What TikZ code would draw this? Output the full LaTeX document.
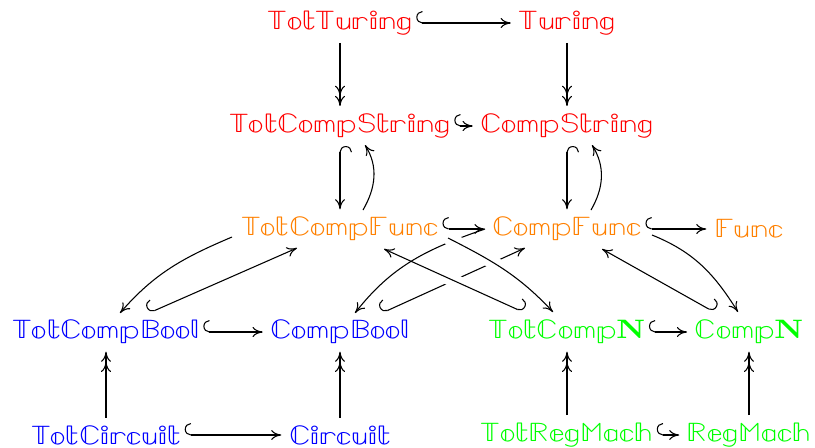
\documentclass[tikz,border=0pt]{standalone}
\usepackage{unicode-math}
\setmathfont{Latin Modern Math}
\usetikzlibrary{arrows.meta}
\definecolor{cRed}{rgb}{1,0,0}
\definecolor{cOrange}{rgb}{1,0.5,0}
\definecolor{cBlue}{rgb}{0,0,1}
\definecolor{cGreen}{rgb}{0,1,0}
\newcommand\bbtxt[1]{\scalebox{1.2}[1]{$#1$}}
\begin{document}
\begin{tikzpicture}[x=0.375pt,y=0.375pt,
  obj/.style={inner xsep=1.2pt, inner ysep=2.7pt, font=\fontsize{10}{12}\selectfont},
  tip/.tip={Computer Modern Rightarrow[length=3.8pt,width=3.8pt]},
  ar/.style={line width=0.4pt, -{tip}},
  hk/.style={line width=0.4pt, {Hooks[right,width=9pt,length=2.3pt]}-{tip}},
  hh/.style={hk, shorten >=1.5pt},
  hkl/.style={line width=0.4pt, {Hooks[left,width=9pt,length=2.3pt]}-{tip}},
  twohd/.style={line width=0.4pt, -{tip[sep=0pt]tip}},
  over/.style={preaction={draw=white, line width=5pt, -}}]
\useasboundingbox (0,0) rectangle (815,-447);
% row 1
\node[obj, text=cRed] (tt) at (340,-23) {\bbtxt{\mathbb{TotTuring}}};
\node[obj, text=cRed] (tu) at (567,-23) {\bbtxt{\mathbb{Turing}}};
% row 2
\node[obj, text=cRed] (tcs) at (340,-126) {\bbtxt{\mathbb{TotCompString}}};
\node[obj, text=cRed] (cs) at (567,-126) {\bbtxt{\mathbb{CompString}}};
% row 3
\node[obj, text=cOrange] (tcf) at (340,-229) {\bbtxt{\mathbb{TotCompFunc}}};
\node[obj, text=cOrange] (cf) at (567,-229) {\bbtxt{\mathbb{CompFunc}}};
\node[obj, text=cOrange] (fu) at (749,-229) {\bbtxt{\mathbb{Func}}};
% row 4
\node[obj, text=cBlue] (tcb) at (106,-332) {\bbtxt{\mathbb{TotCompBool}}};
\node[obj, text=cBlue] (cb) at (340,-332) {\bbtxt{\mathbb{CompBool}}};
\node[obj, text=cGreen] (tcn) at (567,-332) {\bbtxt{\mathbb{TotComp}\mathbf{N}}};
\node[obj, text=cGreen] (cn) at (749,-332) {\bbtxt{\mathbb{Comp}\mathbf{N}}};
% row 5
\node[obj, text=cBlue] (tci) at (106,-435) {\bbtxt{\mathbb{TotCircuit}}};
\node[obj, text=cBlue] (ci) at (340,-435) {\bbtxt{\mathbb{Circuit}}};
\node[obj, text=cGreen] (trm) at (567,-435) {\bbtxt{\mathbb{TotRegMach}}};
\node[obj, text=cGreen] (rm) at (749,-435) {\bbtxt{\mathbb{RegMach}}};

% vertical surjections
\draw[twohd] (tt) -- (tcs);
\draw[twohd] (tu) -- (cs);
\draw[twohd] (tci) -- (tcb);
\draw[twohd] (ci) -- (cb);
\draw[twohd] (trm) -- (tcn);
\draw[twohd] (rm) -- (cn);

% vertical hooks and curved returns
\draw[hk] (tcs) -- (tcf);
\draw[hk] (cs) -- (cf);
\draw[ar] ([shift={(23,19)}]tcf.center) to[out=60,in=-58] ([shift={(25,-19)}]tcs.center);
\draw[ar] ([shift={(24,19)}]cf.center) to[out=60,in=-58] ([shift={(25,-19)}]cs.center);

% left group
\draw[ar] ([shift={(-108,-8)}]tcf.center) to[out=203,in=49] ([shift={(14,19)}]tcb.center);
\draw[hk] ([shift={(43,19)}]tcb.center) -- ([shift={(-43,-19)}]tcf.center);

% crossing group
\draw[hk] ([shift={(42,19)}]cb.center) -- ([shift={(-42,-19)}]cf.center);
\draw[hkl,over] ([shift={(-44,20)}]tcn.center) -- ([shift={(44,-20)}]tcf.center);
\draw[ar] ([shift={(-82,0)}]cf.center) to[out=199,in=52] ([shift={(15,19)}]cb.center);
\draw[ar,over] ([shift={(108,-9)}]tcf.center) to[out=-27,in=133] ([shift={(-14,20)}]tcn.center);

% right group
\draw[ar] ([shift={(85,-6)}]cf.center) to[out=-22,in=122] ([shift={(-11,20)}]cn.center);
\draw[hkl] ([shift={(-35,20)}]cn.center) -- ([shift={(35,-20)}]cf.center);

% horizontal hooks
\draw[hh] (tt) -- (tu);
\draw[hh] (tcs) -- (cs);
\draw[hh] (tcf) -- (cf);
\draw[hh] (cf) -- (fu);
\draw[hh] (tcb) -- (cb);
\draw[hh] (tcn) -- (cn);
\draw[hh] (tci) -- (ci);
\draw[hh] (trm) -- (rm);
\end{tikzpicture}
\end{document}
